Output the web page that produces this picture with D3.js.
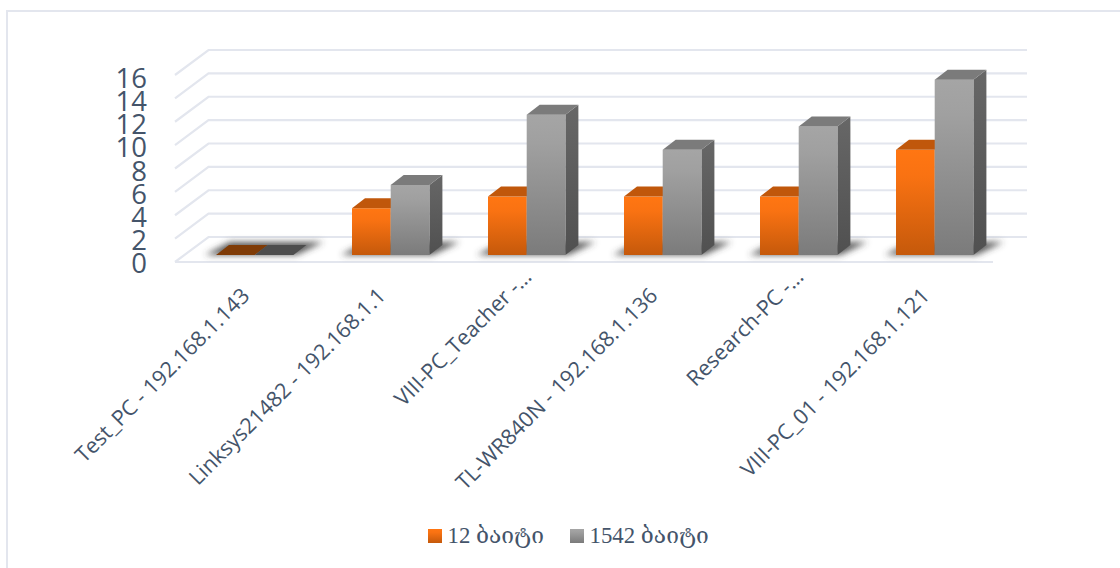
<!DOCTYPE html>
<html><head><meta charset="utf-8">
<script src="https://cdn.jsdelivr.net/npm/d3@7"></script>
<style>html,body{margin:0;padding:0;background:#fff}svg{display:block}</style>
</head><body><div id="c"></div>
<script>
const categories=["Test_PC - 192.168.1.143","Linksys21482 - 192.168.1.1","VIII-PC_Teacher -…","TL-WR840N - 192.168.1.136","Research-PC -…","VIII-PC_01 - 192.168.1.121"];
const seriesNames=["12 ბაიტი","1542 ბაიტი"];
const values12=[0,4,5,5,5,9];
const values1542=[0,6,12,9,11,15];
const yTicks=[0,2,4,6,8,10,12,14,16];
const W=1120,H=568,ink="#44546a",grid="#e3e6ee";
const svg=d3.select("#c").append("svg").attr("width",W).attr("height",H);
const defs=svg.append("defs");
function grad(id,stops){const g=defs.append("linearGradient").attr("id",id).attr("x1",0).attr("y1",0).attr("x2",0).attr("y2",1);
 stops.forEach(s=>g.append("stop").attr("offset",s[0]).attr("stop-color",s[1]));}
grad("gO",[[0,"#ff7612"],[.25,"#f97212"],[1,"#c5590b"]]);
grad("gG",[[0,"#a5a5a5"],[.2,"#a0a0a0"],[1,"#7b7b7b"]]);
grad("gGs",[[0,"#676767"],[1,"#505050"]]);
defs.append("filter").attr("id","blur").attr("x","-30%").attr("y","-100%").attr("width","160%").attr("height","300%")
 .append("feGaussianBlur").attr("stdDeviation",3.4);
defs.append("filter").attr("id","soft").attr("x","-5%").attr("y","-5%").attr("width","110%").attr("height","110%").append("feGaussianBlur").attr("stdDeviation",.45);
svg.append("path").attr("d","M7,568V11H1120").attr("fill","none").attr("stroke",grid).attr("stroke-width",2);

const fdx=33.5,fdy=-25,bdx=13,bdy=-10;
const y=d3.scaleLinear().domain([0,16]).range([262,75]);
const xGroup=d3.scaleBand().domain(categories).range([186.7,1002.7]);
const bw=38.7;
const frontLeft=c=>xGroup(c)+xGroup.bandwidth()/2-bw;
const baseY=255;
const h=d3.scaleLinear().domain([0,16]).range([0,187]);

const gridG=svg.append("g").attr("fill","none").attr("stroke",grid).attr("stroke-width",2.2).attr("filter","url(#soft)");
yTicks.forEach(t=>{
 gridG.append("path").attr("d",d3.line()([[175,y(t)],[175+fdx,y(t)+fdy],[1027,y(t)+fdy]]));
});
gridG.append("path").attr("d",d3.line()([[175,262],[993,262]]));

svg.append("g").selectAll("text").data(yTicks).join("text")
 .attr("x",147).attr("y",d=>263.5-d*11.6).attr("dy","0.36em").attr("text-anchor","end")
 .attr("fill",ink).attr("font-family","'Open Sans'").attr("font-size",27.5).text(d=>d);

const sh=svg.append("g").attr("filter","url(#blur)");
categories.forEach(c=>{
 const x0=frontLeft(c),x1=x0+2*bw;
 sh.append("path").attr("fill","#3f3f3f").attr("opacity",.85)
  .attr("d",d3.line()([[x0-11,baseY],[x1+3,baseY],[x1+30,baseY-13],[x0+14,baseY-13]]));
});

function bar(x,v,front,top,side){
 const ht=h(v),yt=baseY-ht,g=svg.append("g");
 if(v>0){
  g.append("path").attr("fill",`url(#${side})`).attr("d",d3.line()([[x+bw,yt],[x+bw+bdx,yt+bdy],[x+bw+bdx,baseY+bdy],[x+bw,baseY]]));
  g.append("rect").attr("x",x).attr("y",yt).attr("width",bw).attr("height",ht).attr("fill",`url(#${front})`);
 }
 g.append("path").attr("fill",top).attr("d",d3.line()([[x,yt],[x+bdx,yt+bdy],[x+bw+bdx,yt+bdy],[x+bw,yt]]));
}
categories.forEach((c,i)=>{
 const x=frontLeft(c);
 bar(x,values12[i],"gO",values12[i]?"#c0570b":"#7f3b06","gGs");
 bar(x+bw,values1542[i],"gG",values1542[i]?"#7b7b7b":"#4d4d4d","gGs");
});

svg.append("g").selectAll("text").data(categories).join("text")
 .attr("text-anchor","end").attr("fill",ink).attr("font-family","'Open Sans'").attr("font-size",21.5)
 .attr("transform",c=>{const t=c.endsWith("…");return `translate(${frontLeft(c)+bw-16+(t?10:0)},${285-(t?19:0)}) rotate(-45)`;})
 .attr("dy","0.8em").text(d=>d);

const lg=svg.append("g");
[[428,seriesNames[0],"gO",447.5],[570,seriesNames[1],"gG",589.5]].forEach(r=>{
 lg.append("rect").attr("x",r[0]).attr("y",529).attr("width",14).attr("height",14).attr("fill",`url(#${r[2]})`);
 lg.append("text").attr("x",r[3]).attr("y",543).attr("fill",ink).attr("font-family","'Liberation Serif','DejaVu Serif'").attr("font-size",22.8).text(r[1]);
});
</script></body></html>
